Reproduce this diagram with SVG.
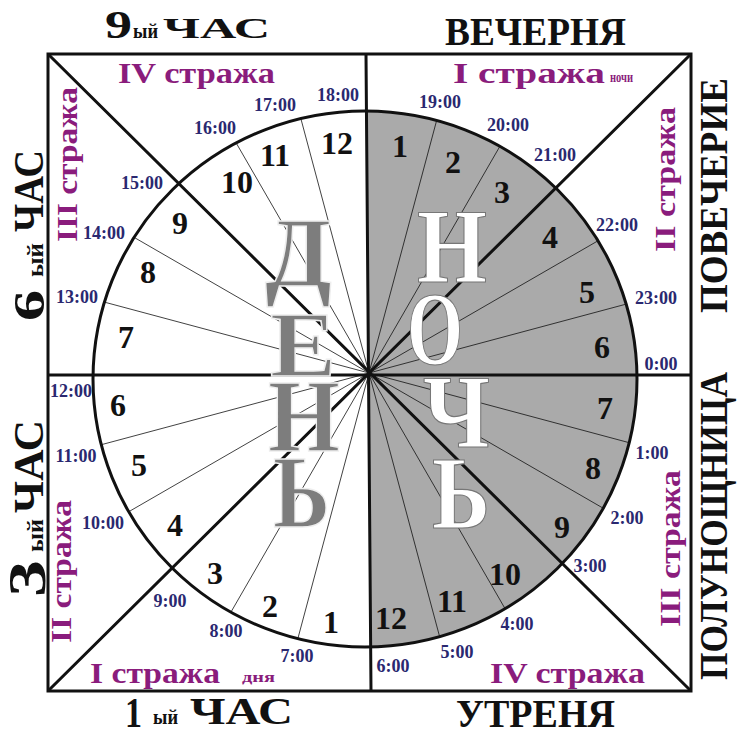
<svg xmlns="http://www.w3.org/2000/svg" width="737" height="737" viewBox="0 0 737 737">
<style>
.blk{font-family:"Liberation Serif",serif;font-weight:bold;fill:#111}
.pur{font-family:"Liberation Serif",serif;font-weight:bold;fill:#8a1c7c;font-size:30px}
.sm{font-size:14px}
.tm{font-family:"Liberation Serif",serif;font-weight:bold;fill:#2a2870;font-size:18px;text-anchor:middle}
.hr{font-family:"Liberation Serif",serif;font-weight:bold;fill:#111;font-size:32px;text-anchor:middle}
.thick{stroke:#111;stroke-width:3;fill:none}
.thin{stroke:#111;stroke-width:0.8;fill:none}
.day{font-family:"Liberation Serif",serif;font-weight:bold;fill:#7d7d7d;stroke:#eeeeee;stroke-width:1.5}
.night{font-family:"Liberation Serif",serif;font-weight:bold;fill:#ffffff;stroke:#777777;stroke-width:1.2}
</style>
<defs>
<clipPath id="ell"><ellipse cx="365" cy="379" rx="272" ry="268"/></clipPath>
</defs>
<rect x="0" y="0" width="737" height="737" fill="#ffffff"/>
<g id="dial">
<ellipse cx="365" cy="379" rx="272" ry="268" fill="#ffffff"/>
<polygon points="366,0 737,0 737,737 371,737" fill="#aaaaaa" clip-path="url(#ell)"/>
</g>
<g id="connectors">
<path class="thin" clip-path="url(#ell)" d="M369,373 L755.4,476.5 M369,373 L715.4,573 M369,373 L569,719.4 M369,373 L472.5,759.4 M369,373 L265.5,759.4 M369,373 L169,719.4 M369,373 L22.6,573 M369,373 L-17.4,476.5 M369,373 L-17.4,269.5 M369,373 L22.6,173 M369,373 L169,26.6 M369,373 L265.5,-13.4 M369,373 L472.5,-13.4 M369,373 L569,26.6 M369,373 L715.4,173 M369,373 L755.4,269.5"/>
<ellipse class="thick" cx="365" cy="379" rx="272" ry="268"/>
<rect class="thick" x="48" y="54" width="643" height="637"/>
<path class="thick" d="M48,54 L691,691 M48,691 L691,54 M366,54 L371,691 M48,375 L691,375"/>
</g>
<g id="day-word">
<text class="day" x="265" y="286" font-size="100" textLength="67" lengthAdjust="spacingAndGlyphs">Д</text>
<text class="day" x="270" y="376" font-size="94" textLength="66" lengthAdjust="spacingAndGlyphs">Е</text>
<text class="day" x="268" y="451" font-size="104" textLength="72" lengthAdjust="spacingAndGlyphs">Н</text>
<text class="day" x="273" y="527" font-size="104" textLength="57" lengthAdjust="spacingAndGlyphs">Ь</text>
</g>
<g id="night-word">
<text class="night" x="417" y="282" font-size="106" textLength="70" lengthAdjust="spacingAndGlyphs">Н</text>
<text class="night" x="407" y="364" font-size="104" textLength="56" lengthAdjust="spacingAndGlyphs">О</text>
<text class="night" x="423" y="447" font-size="104" textLength="67" lengthAdjust="spacingAndGlyphs">Ч</text>
<text class="night" x="432" y="528" font-size="104" textLength="58" lengthAdjust="spacingAndGlyphs">Ь</text>
</g>
<g id="day-hours">
<text class="hr" x="337" y="154">12</text>
<text class="hr" x="275" y="166">11</text>
<text class="hr" x="237" y="193">10</text>
<text class="hr" x="180" y="234">9</text>
<text class="hr" x="148" y="283">8</text>
<text class="hr" x="126" y="348">7</text>
<text class="hr" x="118" y="416">6</text>
<text class="hr" x="139" y="476">5</text>
<text class="hr" x="175" y="536">4</text>
<text class="hr" x="215" y="584">3</text>
<text class="hr" x="270" y="617">2</text>
<text class="hr" x="331" y="633">1</text>
</g>
<g id="night-hours">
<text class="hr" x="400" y="157">1</text>
<text class="hr" x="453" y="173">2</text>
<text class="hr" x="502" y="203">3</text>
<text class="hr" x="550" y="248">4</text>
<text class="hr" x="587" y="303">5</text>
<text class="hr" x="602" y="358">6</text>
<text class="hr" x="605" y="419">7</text>
<text class="hr" x="593" y="479">8</text>
<text class="hr" x="562" y="538">9</text>
<text class="hr" x="505" y="585">10</text>
<text class="hr" x="452" y="612">11</text>
<text class="hr" x="391" y="629">12</text>
</g>
<g id="times">
<text class="tm" x="338" y="101">18:00</text>
<text class="tm" x="275" y="111">17:00</text>
<text class="tm" x="215" y="134">16:00</text>
<text class="tm" x="142" y="189">15:00</text>
<text class="tm" x="104" y="239">14:00</text>
<text class="tm" x="77" y="303">13:00</text>
<text class="tm" x="71" y="397">12:00</text>
<text class="tm" x="76" y="462">11:00</text>
<text class="tm" x="103" y="529">10:00</text>
<text class="tm" x="170" y="607">9:00</text>
<text class="tm" x="226" y="637">8:00</text>
<text class="tm" x="297" y="662">7:00</text>
<text class="tm" x="393" y="672">6:00</text>
<text class="tm" x="457" y="658">5:00</text>
<text class="tm" x="517" y="630">4:00</text>
<text class="tm" x="590" y="572">3:00</text>
<text class="tm" x="627" y="524">2:00</text>
<text class="tm" x="652" y="459">1:00</text>
<text class="tm" x="661" y="370">0:00</text>
<text class="tm" x="656" y="304">23:00</text>
<text class="tm" x="617" y="231">22:00</text>
<text class="tm" x="555" y="161">21:00</text>
<text class="tm" x="508" y="131">20:00</text>
<text class="tm" x="440" y="108">19:00</text>
</g>
<g id="watches">
<text class="pur" x="118" y="83" font-size="28" textLength="157" lengthAdjust="spacingAndGlyphs">IV стража</text>
<text class="pur" x="453" y="83" textLength="152" lengthAdjust="spacingAndGlyphs">I стража</text>
<text class="pur sm" x="610" y="82" textLength="23" lengthAdjust="spacingAndGlyphs">ночи</text>
<text class="pur" transform="translate(675,252) rotate(-90)" textLength="145" lengthAdjust="spacingAndGlyphs">II стража</text>
<text class="pur" transform="translate(680,627) rotate(-90)" textLength="157" lengthAdjust="spacingAndGlyphs">III стража</text>
<text class="pur" x="490" y="683" textLength="155" lengthAdjust="spacingAndGlyphs">IV стража</text>
<text class="pur" x="90" y="683" textLength="130" lengthAdjust="spacingAndGlyphs">I стража</text>
<text class="pur sm" x="242" y="682" textLength="33" lengthAdjust="spacingAndGlyphs">дня</text>
<text class="pur" transform="translate(71,643) rotate(-90)" textLength="143" lengthAdjust="spacingAndGlyphs">II стража</text>
<text class="pur" transform="translate(77,242) rotate(-90)" textLength="155" lengthAdjust="spacingAndGlyphs">III стража</text>
</g>
<g id="services">
<text class="blk" y="38"><tspan x="105" font-size="40" textLength="27" lengthAdjust="spacingAndGlyphs">9</tspan><tspan x="133" font-size="22" textLength="25" lengthAdjust="spacingAndGlyphs">ый</tspan> <tspan x="163" font-size="30" textLength="107" lengthAdjust="spacingAndGlyphs">ЧАС</tspan></text>
<text class="blk" x="445" y="45" font-size="40" textLength="181" lengthAdjust="spacingAndGlyphs">ВЕЧЕРНЯ</text>
<text class="blk" transform="translate(727,313) rotate(-90)" font-size="40" textLength="235" lengthAdjust="spacingAndGlyphs">ПОВЕЧЕРИЕ</text>
<text class="blk" transform="translate(727,680) rotate(-90)" font-size="40" textLength="308" lengthAdjust="spacingAndGlyphs">ПОЛУНОЩНИЦА</text>
<text class="blk" x="456" y="727" font-size="40" textLength="159" lengthAdjust="spacingAndGlyphs">УТРЕНЯ</text>
<text class="blk"><tspan x="125" y="727" font-size="42" textLength="17" lengthAdjust="spacingAndGlyphs">1</tspan> <tspan x="153" y="724" font-size="22" textLength="25" lengthAdjust="spacingAndGlyphs">ый</tspan> <tspan x="190" y="724" font-size="37" textLength="103" lengthAdjust="spacingAndGlyphs">ЧАС</tspan></text>
<text class="blk" transform="translate(45,597) rotate(-90)"><tspan x="0" font-size="52" textLength="37" lengthAdjust="spacingAndGlyphs">3</tspan><tspan x="45" y="-2" font-size="24" textLength="33" lengthAdjust="spacingAndGlyphs">ый</tspan> <tspan x="84" y="-2" font-size="42" textLength="93" lengthAdjust="spacingAndGlyphs">ЧАС</tspan></text>
<text class="blk" transform="translate(44,321) rotate(-90)"><tspan x="0" font-size="44" textLength="31" lengthAdjust="spacingAndGlyphs">6</tspan><tspan x="44" y="-1" font-size="24" textLength="34" lengthAdjust="spacingAndGlyphs">ый</tspan> <tspan x="89" y="-1" font-size="42" textLength="82" lengthAdjust="spacingAndGlyphs">ЧАС</tspan></text>
</g>
</svg>
